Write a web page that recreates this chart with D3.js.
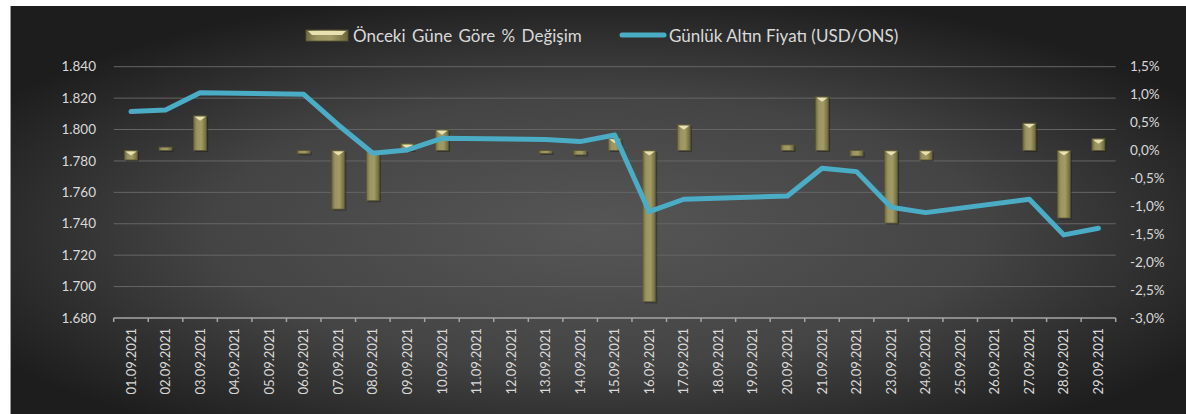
<!DOCTYPE html>
<html>
<head>
<meta charset="utf-8">
<script src="https://cdn.jsdelivr.net/npm/d3@7"></script>
<style>
  body { margin: 0; background: #fff; }
  svg text { font-family: Lato, "Open Sans", sans-serif; fill: #d9d9d9; }
</style>
</head>
<body>
<div id="root"></div>
<script>
// dates, gold price (USD/ONS) and daily % change
const dates = ["01.09.2021","02.09.2021","03.09.2021","04.09.2021","05.09.2021","06.09.2021","07.09.2021",
  "08.09.2021","09.09.2021","10.09.2021","11.09.2021","12.09.2021","13.09.2021","14.09.2021","15.09.2021",
  "16.09.2021","17.09.2021","18.09.2021","19.09.2021","20.09.2021","21.09.2021","22.09.2021","23.09.2021",
  "24.09.2021","25.09.2021","26.09.2021","27.09.2021","28.09.2021","29.09.2021"];
const price = [1811.4, 1812.4, 1823.4, null, null, 1822.4, 1802.9, 1784.9, 1787.0, 1794.4, null, null,
  1793.7, 1792.3, 1796.5, 1747.7, 1755.6, null, null, 1757.7, 1775.3, 1773.2, 1750.5, 1747.1, null, null,
  1755.6, 1732.9, 1737.1];
const change = [-0.17, 0.06, 0.62, null, null, -0.06, -1.05, -0.90, 0.12, 0.37, null, null,
  -0.04, -0.08, 0.22, -2.71, 0.46, null, null, 0.10, 0.96, -0.10, -1.30, -0.17, null, null,
  0.49, -1.21, 0.21];
const leftTicks = [1680, 1700, 1720, 1740, 1760, 1780, 1800, 1820, 1840];
const rightTicks = [-3.0, -2.5, -2.0, -1.5, -1.0, -0.5, 0.0, 0.5, 1.0, 1.5];
const barName = "Önceki Güne Göre % Değişim";
const lineName = "Günlük Altın Fiyatı (USD/ONS)";

const w = 1186, h = 414;
const plot = { left: 113.7, right: 1115.7, top: 66.7, bottom: 318 };

const svg = d3.select("#root").append("svg")
  .attr("width", w)
  .attr("height", h);

const defs = svg.append("defs");
const bg = defs.append("radialGradient").attr("id", "bg")
  .attr("cx", "50%").attr("cy", "55%").attr("r", "60%");
bg.append("stop").attr("offset", "0%").attr("stop-color", "#565656");
bg.append("stop").attr("offset", "55%").attr("stop-color", "#444444");
bg.append("stop").attr("offset", "100%").attr("stop-color", "#1d1d1d");

const gold = defs.append("linearGradient").attr("id", "gold")
  .attr("x1", "0").attr("x2", "1").attr("y1", "0").attr("y2", "0");
gold.append("stop").attr("offset", "0%").attr("stop-color", "#6f6a3f");
gold.append("stop").attr("offset", "25%").attr("stop-color", "#9a9460");
gold.append("stop").attr("offset", "60%").attr("stop-color", "#a29b66");
gold.append("stop").attr("offset", "100%").attr("stop-color", "#6a653b");

// background
svg.append("rect")
  .attr("x", 10).attr("y", 6)
  .attr("width", w - 10).attr("height", h - 6)
  .attr("fill", "url(#bg)");
svg.append("line")
  .attr("x1", 10.5).attr("x2", 10.5).attr("y1", 6).attr("y2", h)
  .attr("stroke", "#9a9a9a").attr("stroke-width", 1);

// scales
const x = d3.scaleBand().domain(dates).range([plot.left, plot.right]).padding(0);
const yL = d3.scaleLinear().domain([1680, 1840]).range([plot.bottom, plot.top]);
const yR = d3.scaleLinear().domain([-3.0, 1.5]).range([plot.bottom, plot.top]);

// gridlines
svg.append("g").selectAll("line")
  .data(leftTicks.slice(1))
  .enter().append("line")
  .attr("x1", plot.left).attr("x2", plot.right)
  .attr("y1", d => yL(d)).attr("y2", d => yL(d))
  .attr("stroke", "#666666").attr("stroke-width", 1);

// left axis labels
const fmtL = d3.formatLocale({ decimal: ",", thousands: ".", grouping: [3], currency: ["", ""] }).format(",.0f");
svg.append("g").selectAll("text")
  .data(leftTicks)
  .enter().append("text")
  .attr("x", 96).attr("y", d => yL(d))
  .attr("dy", "0.35em")
  .attr("text-anchor", "end")
  .style("font-size", "13.5px")
  .text(d => fmtL(d));

// right axis labels
svg.append("g").selectAll("text")
  .data(rightTicks)
  .enter().append("text")
  .attr("x", 1130).attr("y", d => yR(d))
  .attr("dy", "0.35em")
  .style("font-size", "13.5px")
  .text(d => d.toFixed(1).replace(".", ",") + "%");

// bars
const bw = 13;
const bars = svg.append("g").selectAll("g")
  .data(dates.map((d, i) => ({ date: d, v: change[i] })).filter(d => d.v !== null))
  .enter().append("g");

bars.append("rect")
  .attr("x", d => x(d.date) + x.bandwidth() / 2 - bw / 2 + 1.5)
  .attr("y", d => Math.min(yR(d.v), yR(0)) + 1.5)
  .attr("width", bw)
  .attr("height", d => Math.max(3, Math.abs(yR(d.v) - yR(0))))
  .attr("fill", "#1a1a1a").attr("opacity", 0.45);

bars.append("rect")
  .attr("x", d => x(d.date) + x.bandwidth() / 2 - bw / 2)
  .attr("y", d => Math.min(yR(d.v), yR(0)))
  .attr("width", bw)
  .attr("height", d => Math.max(3, Math.abs(yR(d.v) - yR(0))))
  .attr("fill", "url(#gold)")
  .attr("stroke", "#5a5634").attr("stroke-width", 0.8);

bars.filter(d => Math.abs(yR(d.v) - yR(0)) > 6).append("path")
  .attr("d", d => {
    const cx = x(d.date) + x.bandwidth() / 2;
    const top = Math.min(yR(d.v), yR(0)) + 1;
    return `M${cx - bw / 2 + 1},${top} L${cx + bw / 2 - 1},${top} L${cx},${top + 4} Z`;
  })
  .attr("fill", "#e9e1b2");

// line
const linePts = dates.map((d, i) => ({ date: d, v: price[i] })).filter(d => d.v !== null);
svg.append("path")
  .datum(linePts)
  .attr("fill", "none")
  .attr("stroke", "#4bacc6")
  .attr("stroke-width", 5)
  .attr("stroke-linejoin", "round")
  .attr("stroke-linecap", "round")
  .attr("d", d3.line()
    .x(d => x(d.date) + x.bandwidth() / 2)
    .y(d => yL(d.v)));

// x axis
const xAxis = svg.append("g");
xAxis.append("line")
  .attr("x1", plot.left).attr("x2", plot.right)
  .attr("y1", plot.bottom).attr("y2", plot.bottom)
  .attr("stroke", "#a6a6a6").attr("stroke-width", 1.5);
xAxis.selectAll(".tick")
  .data(dates.concat([null]))
  .enter().append("line")
  .attr("x1", (d, i) => plot.left + i * x.bandwidth())
  .attr("x2", (d, i) => plot.left + i * x.bandwidth())
  .attr("y1", plot.bottom).attr("y2", plot.bottom + 4)
  .attr("stroke", "#a6a6a6").attr("stroke-width", 1.5);
xAxis.selectAll("text")
  .data(dates)
  .enter().append("text")
  .attr("transform", d => `translate(${x(d) + x.bandwidth() / 2},328) rotate(-90)`)
  .attr("dy", "0.35em")
  .attr("text-anchor", "end")
  .style("font-size", "13px")
  .text(d => d);

// legend
const legend = svg.append("g");
legend.append("rect")
  .attr("x", 306).attr("y", 30).attr("width", 42).attr("height", 11)
  .attr("fill", "url(#gold)").attr("stroke", "#5a5634").attr("stroke-width", 0.8);
legend.append("path")
  .attr("d", "M308,31 L346,31 L342,35 L312,35 Z")
  .attr("fill", "#e9e1b2");
legend.append("text")
  .attr("x", 353).attr("y", 36).attr("dy", "0.35em")
  .style("font-size", "17px")
  .style("word-spacing", "2px")
  .text(barName);
legend.append("line")
  .attr("x1", 622).attr("x2", 664).attr("y1", 35).attr("y2", 35)
  .attr("stroke", "#4bacc6").attr("stroke-width", 5).attr("stroke-linecap", "round");
legend.append("text")
  .attr("x", 669).attr("y", 36).attr("dy", "0.35em")
  .style("font-size", "17px")
  .text(lineName);
</script>
</body>
</html>
